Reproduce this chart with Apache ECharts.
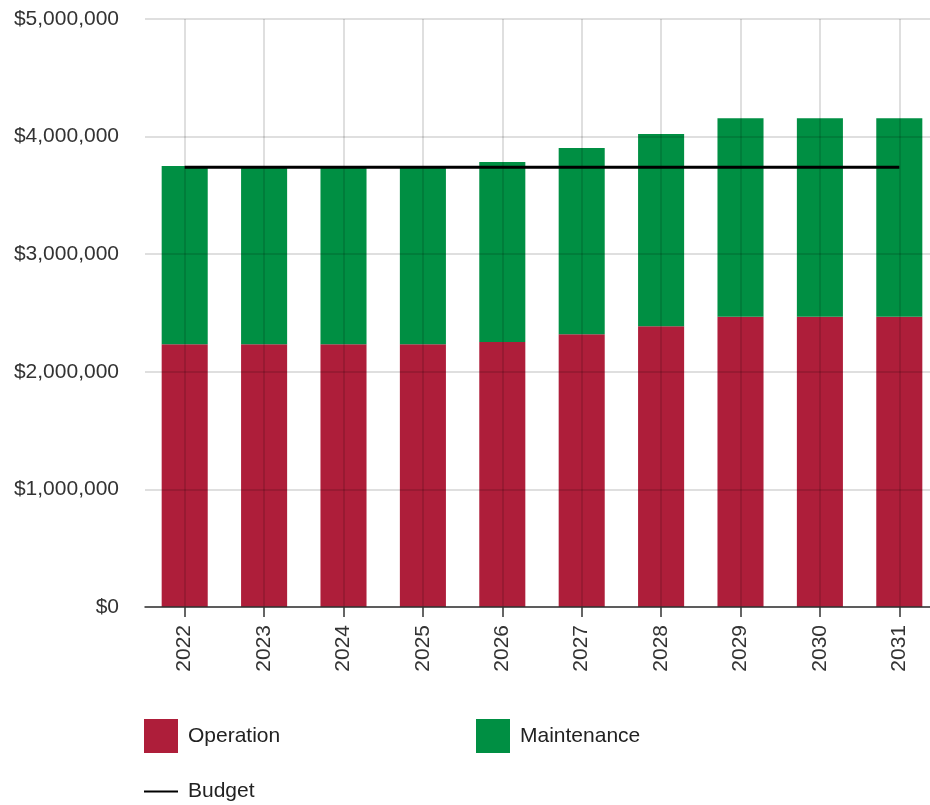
<!DOCTYPE html>
<html>
<head>
<meta charset="utf-8">
<script src="https://cdn.jsdelivr.net/npm/echarts@6/dist/echarts.min.js"></script>
<style>
  html, body { margin: 0; padding: 0; background: #fff; overflow: hidden; }
  /* the plot runs slightly past the right edge of the window */
  #chart { width: 940px; height: 805px; }
</style>
</head>
<body>
<div id="chart"></div>
<script>
// Annual operating and maintenance costs against the budget
const years = ['2022', '2023', '2024', '2025', '2026', '2027', '2028', '2029', '2030', '2031'];
const operation = [2234000, 2234000, 2234000, 2234000, 2253000, 2319000, 2387000, 2469000, 2469000, 2469000];
const maintenance = [1516000, 1516000, 1516000, 1516000, 1531000, 1584000, 1635000, 1686000, 1686000, 1686000];
const budget = [3740000, 3740000, 3740000, 3740000, 3740000, 3740000, 3740000, 3740000, 3740000, 3740000];
const yTicks = [0, 1000000, 2000000, 3000000, 4000000, 5000000];

const FONT = '"Liberation Sans", Arial, sans-serif';
const RED = '#AE1E3A';
const GREEN = '#008F43';
const GRIDLINE = 'rgba(0,0,0,0.17)';

const fmtMoney = v => '$' + Number(v).toLocaleString('en-US');

const chart = echarts.init(document.getElementById('chart'), null, { renderer: 'canvas' });

const legendText = { fontFamily: FONT, fontSize: 21, color: '#222', padding: [0, 0, 0, 5] };

chart.setOption({
  animation: false,
  backgroundColor: '#fff',
  grid: { left: 145, top: 19, width: 794, height: 588, containLabel: false },
  legend: [
    {
      data: ['Operation'], left: 144, top: 719, padding: 0,
      itemWidth: 34, itemHeight: 34, icon: 'rect', textStyle: legendText
    },
    {
      data: ['Maintenance'], left: 476, top: 719, padding: 0,
      itemWidth: 34, itemHeight: 34, icon: 'rect', textStyle: legendText
    },
    {
      data: [{ name: 'Budget', icon: 'rect' }], left: 144, top: 781, padding: 0,
      itemWidth: 34, itemHeight: 2, textStyle: legendText
    }
  ],
  xAxis: {
    type: 'category',
    data: years,
    boundaryGap: true,
    z: 5,
    axisLine: { show: true, lineStyle: { color: '#333', width: 1.5 } },
    axisTick: { show: true, alignWithLabel: true, length: 10, lineStyle: { color: '#333', width: 1.5 } },
    axisLabel: { rotate: 90, margin: 18, fontFamily: FONT, fontSize: 21, color: '#333' },
    splitLine: { show: true, alignWithLabel: true, lineStyle: { color: GRIDLINE, width: 1.5 } }
  },
  yAxis: {
    type: 'value',
    min: yTicks[0],
    max: yTicks[yTicks.length - 1],
    interval: yTicks[1] - yTicks[0],
    z: 5,
    axisLine: { show: false },
    axisTick: { show: false },
    axisLabel: { margin: 26, fontFamily: FONT, fontSize: 21, color: '#333', formatter: fmtMoney },
    splitLine: { show: true, lineStyle: { color: GRIDLINE, width: 1.5 } }
  },
  series: [
    {
      name: 'Operation', type: 'bar', stack: 'cost', data: operation,
      barWidth: '58%', itemStyle: { color: RED }, z: 2
    },
    {
      name: 'Maintenance', type: 'bar', stack: 'cost', data: maintenance,
      barWidth: '58%', itemStyle: { color: GREEN }, z: 2
    },
    {
      name: 'Budget', type: 'line', data: budget,
      symbol: 'none', showSymbol: false,
      lineStyle: { color: '#000', width: 3 }, itemStyle: { color: '#000' }, z: 10
    }
  ]
});
</script>
</body>
</html>
